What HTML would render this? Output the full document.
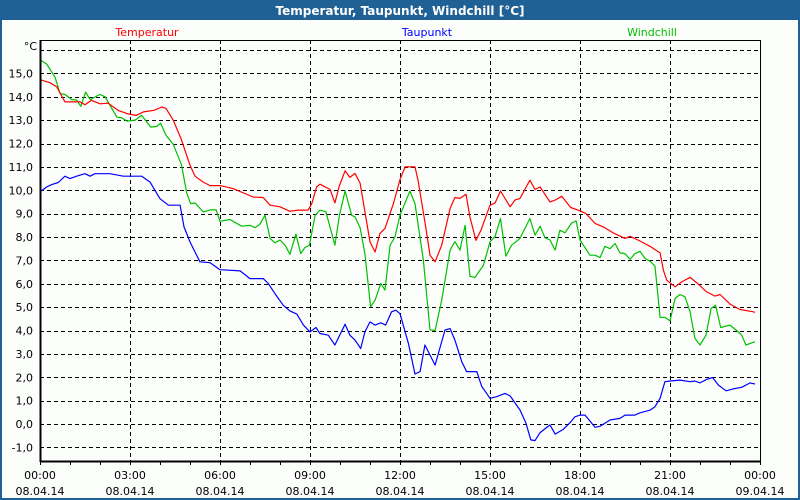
<!DOCTYPE html>
<html><head><meta charset="utf-8">
<style>
html,body{margin:0;padding:0;}
body{width:800px;height:500px;overflow:hidden;background:#1f6194;}
#frame{position:absolute;left:0;top:0;width:800px;height:500px;}
</style></head>
<body>
<svg id="frame" width="800" height="500" xmlns="http://www.w3.org/2000/svg" font-family="'DejaVu Sans','Liberation Sans',sans-serif">
  <rect x="0" y="0" width="800" height="500" fill="#1f6194"/>
  <rect x="2" y="20" width="796" height="478" fill="#fcfefc"/>
  <text x="400" y="15" text-anchor="middle" fill="#ffffff" font-weight="bold" font-size="12">Temperatur, Taupunkt, Windchill [°C]</text>
  <text x="147" y="36" text-anchor="middle" fill="#ff0000" font-size="11">Temperatur</text>
  <text x="427" y="36" text-anchor="middle" fill="#0000ff" font-size="11">Taupunkt</text>
  <text x="652" y="36" text-anchor="middle" fill="#00c000" font-size="11">Windchill</text>
  <text x="37" y="50" text-anchor="end" fill="#000" font-size="11">°C</text>
  <g id="grid"></g>
  <g id="series"></g>
  <g id="axes"></g>
</svg>
<script>
const yTicks = [-1,0,1,2,3,4,5,6,7,8,9,10,11,12,13,14,15];
const xTickHours = [0,3,6,9,12,15,18,21,24];
const xTimeLabels = ["00:00","03:00","06:00","09:00","12:00","15:00","18:00","21:00","00:00"];
const xDateLabels = ["08.04.14","08.04.14","08.04.14","08.04.14","08.04.14","08.04.14","08.04.14","08.04.14","09.04.14"];

const tempHours = [0,0.33,0.56,0.83,1.33,1.5,1.72,2.0,2.27,2.6,2.9,3.2,3.45,3.8,4.06,4.2,4.44,4.7,5.0,5.17,5.44,5.67,6.0,6.44,7.1,7.44,7.67,8.0,8.33,8.6,8.94,9.06,9.22,9.33,9.67,9.83,9.98,10.17,10.33,10.5,10.67,11.0,11.17,11.33,11.5,11.78,12.0,12.17,12.5,12.6,12.83,13.0,13.17,13.39,13.67,13.83,14.0,14.2,14.33,14.53,14.7,15.0,15.17,15.35,15.67,15.83,16.0,16.33,16.5,16.67,17.0,17.17,17.39,17.69,18.0,18.2,18.5,18.78,19.1,19.5,19.67,20.0,20.33,20.67,20.78,20.89,21.17,21.39,21.67,21.94,22.22,22.5,22.67,23.0,23.33,23.78,23.83];
const tempValues = [14.73,14.6,14.42,13.78,13.78,13.66,13.85,13.7,13.73,13.42,13.28,13.2,13.35,13.42,13.56,13.5,13.0,12.21,11.07,10.6,10.35,10.2,10.2,10.07,9.71,9.69,9.36,9.29,9.1,9.15,9.15,9.43,10.14,10.26,10.03,9.46,10.2,10.83,10.55,10.72,10.3,7.79,7.36,8.15,8.37,9.43,10.46,11.0,11.0,10.43,8.65,7.22,6.94,7.65,9.22,9.69,9.65,9.83,8.86,7.86,8.29,9.36,9.46,9.97,9.29,9.58,9.65,10.43,10.03,10.14,9.5,9.58,9.74,9.26,9.12,9.0,8.58,8.43,8.18,7.94,8.03,7.83,7.6,7.32,6.58,6.15,5.87,6.08,6.27,5.99,5.65,5.47,5.54,5.13,4.9,4.8,4.77];

const dewHours = [0,0.22,0.39,0.61,0.83,1.0,1.22,1.5,1.67,1.83,2.33,2.78,3.39,3.67,3.83,4.0,4.28,4.67,4.8,5.0,5.33,5.67,6.0,6.67,7.0,7.44,7.61,7.83,8.11,8.33,8.56,8.78,9.0,9.2,9.33,9.61,9.83,10.17,10.33,10.5,10.69,10.83,11.0,11.17,11.36,11.52,11.72,11.86,12.0,12.28,12.5,12.67,12.83,13.17,13.5,13.67,13.83,14.06,14.22,14.56,14.72,15.0,15.22,15.5,15.67,16.0,16.2,16.36,16.5,16.67,17.0,17.17,17.44,17.67,17.83,18.0,18.17,18.5,18.67,19.0,19.33,19.5,19.83,20.0,20.33,20.5,20.67,20.83,21.0,21.33,21.67,21.83,22.0,22.22,22.42,22.61,22.87,23.11,23.39,23.67,23.83];
const dewValues = [9.93,10.14,10.24,10.33,10.6,10.5,10.6,10.71,10.6,10.71,10.71,10.6,10.6,10.35,10.0,9.64,9.36,9.36,8.43,7.79,6.94,6.9,6.6,6.55,6.22,6.22,6.01,5.58,5.08,4.84,4.7,4.23,3.94,4.13,3.87,3.8,3.38,4.27,3.8,3.59,3.23,3.94,4.37,4.23,4.33,4.23,4.8,4.87,4.72,3.45,2.14,2.24,3.38,2.52,4.02,4.08,3.59,2.66,2.24,2.24,1.62,1.1,1.17,1.31,1.2,0.6,0.03,-0.68,-0.71,-0.37,-0.04,-0.43,-0.23,0.06,0.31,0.38,0.38,-0.14,-0.1,0.17,0.24,0.38,0.38,0.48,0.59,0.74,1.1,1.81,1.84,1.88,1.81,1.84,1.76,1.91,1.99,1.67,1.42,1.5,1.57,1.76,1.71];

const chillHours = [0,0.22,0.5,0.67,0.83,1.06,1.22,1.36,1.52,1.67,2.0,2.17,2.56,2.72,2.91,3.17,3.39,3.69,3.89,4.02,4.2,4.44,4.72,4.89,5.02,5.17,5.44,5.67,5.87,6.0,6.33,6.72,7.0,7.17,7.33,7.5,7.67,7.83,8.0,8.17,8.33,8.53,8.69,8.83,8.98,9.17,9.33,9.53,9.83,9.98,10.17,10.39,10.5,10.67,10.83,11.02,11.17,11.36,11.5,11.67,11.83,12.0,12.33,12.5,12.78,13.0,13.17,13.39,13.67,13.83,14.0,14.17,14.33,14.5,14.78,15.0,15.17,15.35,15.53,15.72,16.0,16.33,16.5,16.67,16.83,17.0,17.17,17.33,17.5,17.72,17.87,18.0,18.33,18.5,18.67,18.83,19.0,19.17,19.33,19.5,19.67,19.83,20.0,20.17,20.33,20.5,20.67,20.83,21.0,21.17,21.33,21.5,21.67,21.83,22.0,22.2,22.37,22.52,22.69,23.0,23.22,23.39,23.53,23.83];
const chillValues = [15.58,15.4,14.84,14.13,14.1,13.88,13.86,13.59,14.2,13.88,14.1,14.0,13.13,13.1,12.96,13.0,13.2,12.7,12.73,12.87,12.35,11.97,11.07,9.88,9.43,9.46,9.07,9.16,9.16,8.67,8.75,8.46,8.5,8.4,8.55,8.93,7.94,7.75,7.87,7.65,7.26,8.12,7.29,7.55,7.65,8.93,9.15,9.08,7.65,8.93,9.97,8.93,8.86,8.4,7.29,5.01,5.3,6.01,5.73,7.65,8.0,8.93,9.97,9.43,7.0,4.02,4.0,5.3,7.44,7.8,7.44,8.5,6.32,6.27,6.79,7.79,8.03,8.79,7.18,7.65,7.94,8.79,8.08,8.46,7.97,7.87,7.44,8.29,8.18,8.6,8.69,7.87,7.22,7.22,7.12,7.6,7.5,7.72,7.32,7.29,7.04,7.29,7.39,7.08,6.97,6.75,4.56,4.56,4.41,5.37,5.54,5.44,4.8,3.66,3.38,3.8,4.94,5.08,4.13,4.23,4.0,3.8,3.38,3.52];

const NS = "http://www.w3.org/2000/svg";
const L = 40, R = 760, T = 40, B = 461;
function xScale(h){ return L + h * (R - L) / 24; }
function yScale(v){ return 424 - v * 23.375; }
function mk(tag, attrs, parent){
  const el = document.createElementNS(NS, tag);
  for (const k in attrs) el.setAttribute(k, attrs[k]);
  parent.appendChild(el);
  return el;
}
const grid = document.getElementById('grid');
const axes = document.getElementById('axes');
const series = document.getElementById('series');

// horizontal grid lines
const gridVals = yTicks.concat([16]);
gridVals.forEach(v => {
  const y = Math.round(yScale(v)) + 0.5;
  const ln = mk('line', {x1:L, x2:R, y1:y, y2:y, stroke:'#000', 'stroke-width':1, 'stroke-dasharray':'4,3'}, grid);
  
  
});
yTicks.forEach(v => {
  const t = mk('text', {x:33, y:yScale(v) + 4, 'text-anchor':'end', 'font-size':11, fill:'#000'}, axes);
  t.textContent = v.toFixed(1).replace('.', ',');
  
  
});
// vertical grid + labels
xTickHours.forEach((h, i) => {
  const x = Math.round(xScale(h)) + 0.5;
  if (h > 0 && h < 24) {
    const ln = mk('line', {x1:x, x2:x, y1:T, y2:B, stroke:'#000', 'stroke-width':1, 'stroke-dasharray':'4,3'}, grid);
    
    
  }
  const t1 = mk('text', {x:xScale(h), y:479, 'text-anchor':'middle', 'font-size':11, fill:'#000'}, axes);
  t1.textContent = xTimeLabels[i];
  
  
  const t2 = mk('text', {x:xScale(h), y:495, 'text-anchor':'middle', 'font-size':11, fill:'#000'}, axes);
  t2.textContent = xDateLabels[i];
  
  
});
// hourly ticks
for (let h = 0; h <= 24; h++) {
  const x = Math.round(xScale(h)) + 0.5;
  const tk = mk('line', {x1:x, x2:x, y1:B, y2:B + 4, stroke:'#000', 'stroke-width':1}, axes);
  
  
}
// box
const box = mk('rect', {x:L + 0.5, y:T + 0.5, width:R - L, height:B - T, fill:'none', stroke:'#000', 'stroke-width':1}, axes);


const yAx = mk('line', {x1:L + 0.5, x2:L + 0.5, y1:T, y2:B + 1, stroke:'#000', 'stroke-width':2}, axes);


const xAx = mk('line', {x1:L, x2:R + 1, y1:B + 0.5, y2:B + 0.5, stroke:'#000', 'stroke-width':2}, axes);



function drawLine(hours, vals, color, name){
  const pts = hours.map((h, i) => xScale(h).toFixed(1) + ',' + yScale(vals[i]).toFixed(1)).join(' ');
  const pl = mk('polyline', {points:pts, fill:'none', stroke:color, 'stroke-width':1.2, 'stroke-linejoin':'round'}, series);
  
  
}
drawLine(chillHours, chillValues, '#00c000', 'windchill-line');
drawLine(dewHours, dewValues, '#0000ff', 'taupunkt-line');
drawLine(tempHours, tempValues, '#ff0000', 'temperatur-line');
</script>
</body></html>
